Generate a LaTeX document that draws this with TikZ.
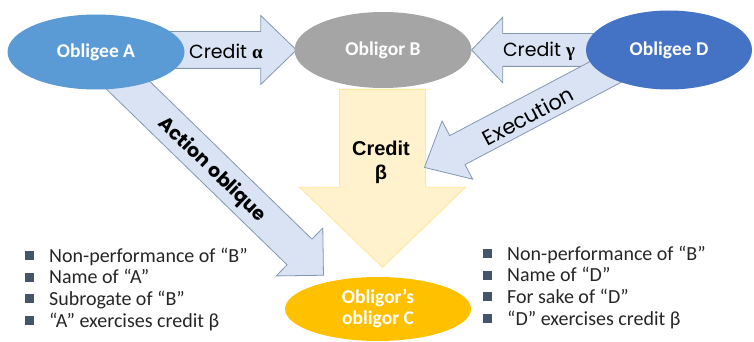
\documentclass[tikz,border=0pt]{standalone}
\usepackage{fontspec}
\setmainfont{Carlito}
\newfontfamily\gothic{Poppins}
\newfontfamily\arialf{Liberation Sans}
\newfontfamily\grkf{Liberation Serif}
\usetikzlibrary{shapes,shapes.geometric,shapes.multipart,calc,positioning}

\definecolor{obligeeA}{RGB}{91,155,213}
\definecolor{obligorB}{RGB}{165,165,165}
\definecolor{obligeeD}{RGB}{68,114,196}
\definecolor{obligorC}{RGB}{255,192,0}
\definecolor{claimfill}{RGB}{218,227,243}
\definecolor{claimline}{RGB}{132,151,176}
\definecolor{betafill}{RGB}{255,242,204}
\definecolor{betaline}{RGB}{255,230,153}
\definecolor{bullet}{RGB}{68,84,106}
\definecolor{itemtext}{RGB}{38,38,38}

\newcommand{\bul}{{\color{bullet}\rule[2pt]{9pt}{9pt}}\hspace{15pt}}

\pgfdeclarelayer{back}
\pgfsetlayers{back,main}

\begin{document}
\begin{tikzpicture}
[x=1pt,y=-1pt,
party/.style={shape=ellipse,inner sep=0pt,text=white,align=center,
	font=\fontsize{19.5}{21}\selectfont\bfseries},
claim/.style={single arrow,draw=claimline,fill=claimfill,line width=0.8pt,
	inner xsep=0pt,anchor=tail,single arrow head indent=0pt},
item/.style={inner sep=0pt,anchor=base west,text=itemtext,
	font=\fontsize{20}{24}\selectfont}]
\useasboundingbox (0,0) rectangle (754,342);

% parties
\node (a) [party,fill=obligeeA,minimum width=177,minimum height=75] at (96,52) {Obligee A};
\node (b) [party,fill=obligorB,minimum width=177,minimum height=76] at (383,50) {Obligor B};
\node (d) [party,fill=obligeeD,minimum width=166,minimum height=79] at (669,50) {Obligee D};
\node (c) [party,fill=obligorC,minimum width=186,minimum height=64] at (378,309) {Obligor’s\\obligor C};

% block arrows (inner ysep = half shaft)
\begin{pgfonlayer}{back}
\node (alpha) [claim,minimum height=146,inner ysep=18,single arrow head extend=16,
	single arrow tip angle=88] at (150,50) {};
\node (gamma) [claim,minimum height=148,inner ysep=16,single arrow head extend=16.5,
	single arrow tip angle=93,rotate=180] at (620,50) {};
\node (beta) [claim,draw=betaline,fill=betafill,minimum height=178,inner ysep=42.5,
	single arrow head extend=40,single arrow tip angle=92,rotate=-90] at (382.5,89) {};
\node (oblique) [claim,minimum height=289,inner ysep=17.5,single arrow head extend=15.5,
	single arrow tip angle=90,rotate=-44.2] at (116,73.5) {};
\node (exec) [claim,minimum height=215,inner ysep=16,single arrow head extend=16.5,
	single arrow tip angle=83,rotate=207.8] at (615,67) {};
\end{pgfonlayer}

% arrow labels
\node (alphatxt) [inner sep=0pt,font=\gothic\fontsize{19}{21}\selectfont] at (226,51) {Credit {\grkf\bfseries α}};
\node (gammatxt) [inner sep=0pt,font=\gothic\fontsize{19}{21}\selectfont] at (539,51) {Credit {\grkf\bfseries γ}};
\node (betatxt) [inner sep=0pt,align=center,font=\arialf\fontsize{20}{24}\selectfont\bfseries] at (381,162) {Credit\\β};
\node (obliquetxt) [inner sep=0pt,rotate=-44,font=\gothic\fontsize{19}{21}\selectfont\bfseries] at (212,170) {Action oblique};
\node (exectxt) [inner sep=0pt,rotate=28,font=\gothic\fontsize{21}{23}\selectfont] at (528,116) {Execution};

% conditions
\foreach \t [count=\i] in {Non-performance of “B”,Name of “A”,Subrogate of “B”,“A” exercises credit β}
	\node (l\i) [item] at (25,{240.3+21.7*\i}) {\bul\t};
\foreach \t [count=\i] in {Non-performance of “B”,Name of “D”,For sake of “D”,“D” exercises credit β}
	\node (r\i) [item] at (483,{238.3+21.7*\i}) {\bul\t};
\end{tikzpicture}
\end{document}
